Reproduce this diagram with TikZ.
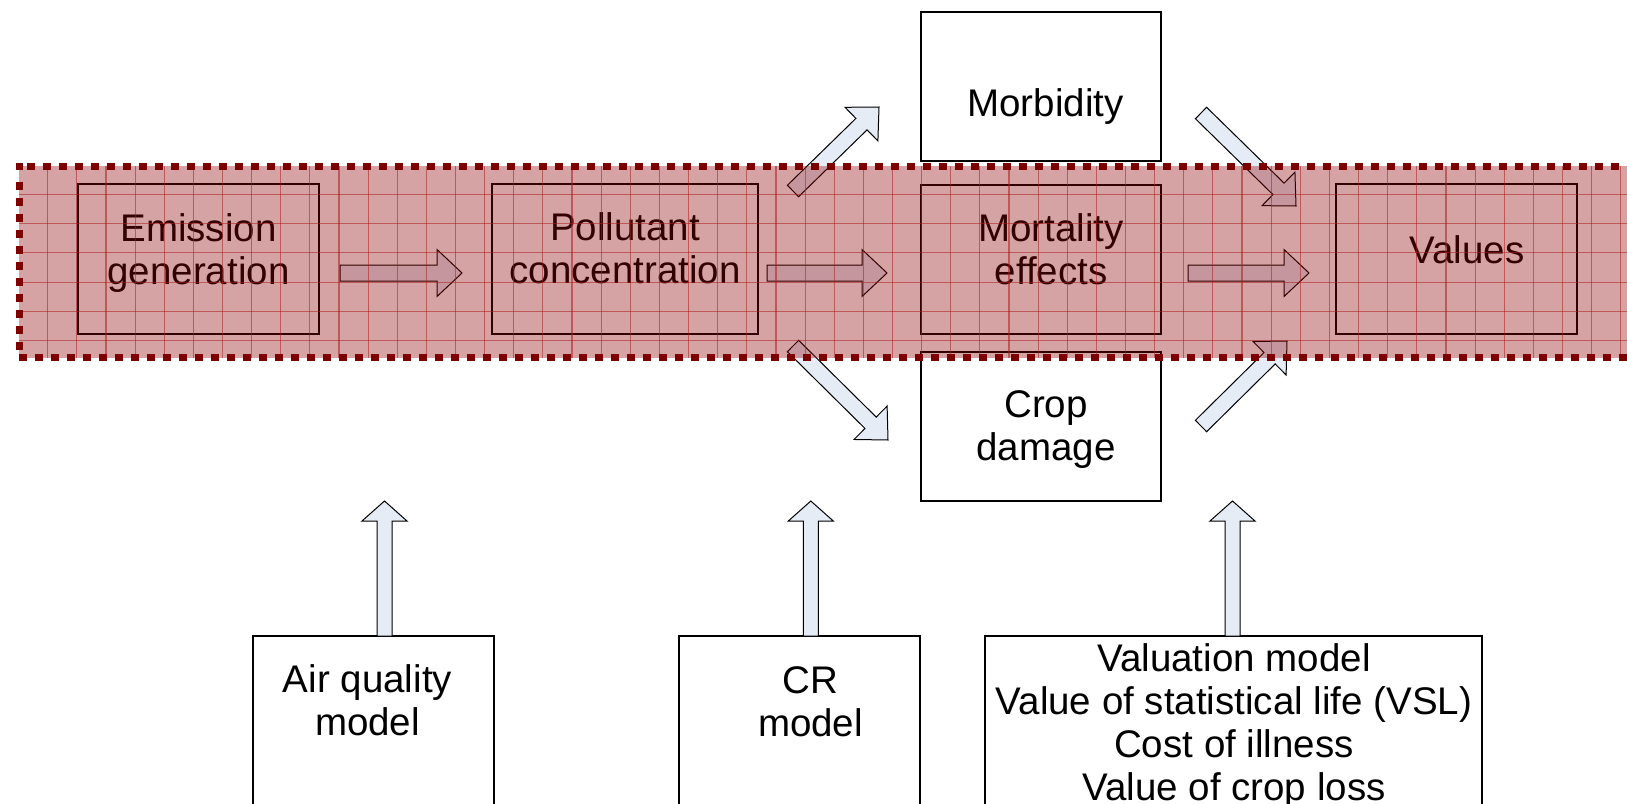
\documentclass[tikz,border=0pt]{standalone}
\usepackage{fontspec}
\setmainfont{Liberation Sans}
\usetikzlibrary{calc}
\definecolor{arrowblue}{RGB}{230,236,246}
\definecolor{bandred}{RGB}{140,0,0}
\definecolor{gridred}{RGB}{170,30,30}
\definecolor{dashred}{RGB}{125,0,0}
\tikzset{
  box/.style={draw=black, line width=1.2pt, fill=white, inner sep=0pt},
  txt/.style={inner sep=0pt, align=center, font=\fontsize{38.5}{43}\selectfont},
  barrow/.style={draw=black, line width=1pt, fill=arrowblue, line join=miter},
  gridline/.style={draw=gridred, line width=1.1pt, opacity=0.55},
  dashborder/.style={draw=dashred, line width=7pt, dash pattern=on 8pt off 8pt},
}
\newcommand{\blockarrow}[5]{%
  \coordinate (hb) at ($(#2)!#5!(#1)$);
  \draw[barrow] ($(#1)!#3!90:(#2)$) -- ($(hb)!#3!90:(#2)$) -- ($(hb)!#4!90:(#2)$) -- (#2)
    -- ($(hb)!#4!-90:(#2)$) -- ($(hb)!#3!-90:(#2)$) -- ($(#1)!#3!-90:(#2)$) -- cycle;}
\begin{document}
\begin{tikzpicture}[x=1pt,y=-1pt]
\clip (0,0) rectangle (1627,803);
\fill[white] (0,0) rectangle (1627,803);

% boxes
\node[box, minimum width=241pt, minimum height=150pt] (emis) at (198.5,259) {};
\node[box, minimum width=266pt, minimum height=150pt] (poll) at (625,259) {};
\node[box, minimum width=240pt, minimum height=149pt] (mort) at (1041,259.5) {};
\node[box, minimum width=241pt, minimum height=150pt] (vals) at (1456.5,259) {};
\node[box, minimum width=240pt, minimum height=149pt] (morb) at (1041,86.5) {};
\node[box, minimum width=240pt, minimum height=149pt] (crop) at (1041,426.5) {};
\node[box, minimum width=241pt, minimum height=184pt] (air) at (373.5,728) {};
\node[box, minimum width=241pt, minimum height=184pt] (cr) at (799.5,728) {};
\node[box, minimum width=497pt, minimum height=184pt] (valm) at (1233.5,728) {};

% texts
\node[txt] (emisT) at (198.5,253.9) {\strut Emission\\\strut generation};
\node[txt] (pollT) at (625,253.4) {\strut Pollutant\\\strut concentration};
\node[txt] (mortT) at (1051,253.9) {\strut Mortality\\\strut effects};
\node[txt] (valsT) at (1467,254.4) {\strut Values};
\node[txt] (morbT) at (1045.5,107.4) {\strut Morbidity};
\node[txt] (cropT) at (1046,429.9) {\strut Crop\\\strut damage};
\node[txt] (airT) at (367.5,705.4) {\strut Air quality\\\strut model};
\node[txt] (crT) at (810.5,705.9) {\strut CR\\\strut model};
\node[txt] (valmT) at (1234,726.9) {\strut Valuation model\\\strut Value of statistical life (VSL)\\\strut Cost of illness\\\strut Value of crop loss};

% arrow end points
\coordinate (a1s) at (340,273);    \coordinate (a1e) at (462,273);
\coordinate (a2s) at (767,273);    \coordinate (a2e) at (887,273);
\coordinate (a3s) at (1188,273);   \coordinate (a3e) at (1309,273);
\coordinate (a4s) at (793,191);    \coordinate (a4e) at (879,107);
\coordinate (a5s) at (793,346);    \coordinate (a5e) at (888,440);
\coordinate (a6s) at (1201,113);   \coordinate (a6e) at (1296,206);
\coordinate (a7s) at (1201,426);   \coordinate (a7e) at (1287,341);
\coordinate (a8s) at (384.5,636);  \coordinate (a8e) at (384.5,501);
\coordinate (a9s) at (810.8,636);  \coordinate (a9e) at (810.8,501);
\coordinate (a10s) at (1232.5,636); \coordinate (a10e) at (1232.5,501);

\blockarrow{a1s}{a1e}{8pt}{23.5pt}{25pt}
\blockarrow{a2s}{a2e}{8pt}{23.5pt}{25pt}
\blockarrow{a3s}{a3e}{8pt}{23.5pt}{25pt}
\blockarrow{a4s}{a4e}{8pt}{23.5pt}{24.5pt}
\blockarrow{a5s}{a5e}{8pt}{23.5pt}{24.5pt}
\blockarrow{a6s}{a6e}{8pt}{23.5pt}{24.5pt}
\blockarrow{a7s}{a7e}{8pt}{23.5pt}{24.5pt}
\blockarrow{a8s}{a8e}{7.5pt}{22.5pt}{20pt}
\blockarrow{a9s}{a9e}{7.5pt}{22.5pt}{20pt}
\blockarrow{a10s}{a10e}{7.5pt}{22.5pt}{20pt}

% translucent band
\fill[bandred, opacity=0.36] (19,166) rectangle (1640,357.5);
\begin{scope}
  \clip (19,166) rectangle (1640,357.5);
  \foreach \i in {0,...,55} {\draw[gridline] ({47.7+29.13*\i},166) -- ({47.7+29.13*\i},357.5);}
  \foreach \j in {0,...,5} {\draw[gridline] (19,{194.3+29.3*\j}) -- (1640,{194.3+29.3*\j});}
\end{scope}
% dashed border
\draw[dashborder] (26.7,166) -- (1640,166);
\draw[dashborder] (19,182.3) -- (19,352);
\draw[dashborder] (19,357.5) -- (1640,357.5);
\fill[dashred] (15.5,162.5) rectangle (23.3,170);
\end{tikzpicture}
\end{document}
